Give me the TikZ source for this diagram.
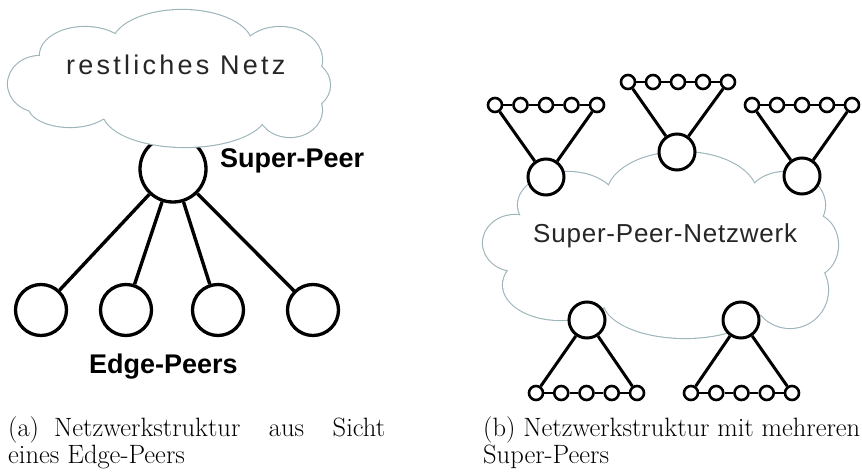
\documentclass[tikz,border=0pt]{standalone}
\usepackage{fontspec}
\newfontfamily\peersans{Liberation Sans}
\newfontfamily\cloudsans[LetterSpace=12]{Liberation Sans}
\newfontfamily\netsans[LetterSpace=3]{Liberation Sans}
\definecolor{cloudedge}{HTML}{9DB4BB}

% a cloud: every lobe is stroked first, then all lobes are filled white,
% so only the outer rim of the union stays visible
\newcommand\drawcloud[1]{%
  \foreach \cx/\cy/\rx/\ry in {#1}
    \draw[cloudline] (\cx,\cy) ellipse [x radius=\rx, y radius=\ry];
  \foreach \cx/\cy/\rx/\ry in {#1}
    \fill[white] (\cx,\cy) ellipse [x radius=\rx, y radius=\ry];
}

% a super-peer with its chain of five edge-peers
\newcommand\peergroup[6]{%
  \foreach \k in {0,...,4}
    \node[leafpeer] (#1-\k) at ({#4+\k*#5},#6) {};
  \foreach \k in {0,...,3}{%
    \pgfmathtruncatemacro\kn{\k+1}
    \draw[leaflink] (#1-\k) -- (#1-\kn);}
  \node[netpeer] (#1) at (#2,#3) {};
  \draw[netlink] (#1) -- (#1-0);
  \draw[netlink] (#1) -- (#1-4);
}

\begin{document}
\begin{tikzpicture}[x=1pt,y=-1pt,
  cloudline/.style={draw=cloudedge, line width=2.2pt},
  bigpeer/.style={circle, draw, fill=white, line width=3.3pt, minimum size=66pt, inner sep=0pt},
  edgepeer/.style={circle, draw, fill=white, line width=3.3pt, minimum size=51pt, inner sep=0pt},
  netpeer/.style={circle, draw, fill=white, line width=3pt, minimum size=36pt, inner sep=0pt},
  leafpeer/.style={circle, draw, fill=white, line width=2.6pt, minimum size=14pt, inner sep=0pt},
  link/.style={line width=3.4pt},
  netlink/.style={line width=3pt},
  leaflink/.style={line width=2.6pt},
  peerlabel/.style={inner sep=0pt, font={\peersans\bfseries\fontsize{27}{30}\selectfont}},
  cloudtext/.style={inner sep=0pt, text=black!85, font={\cloudsans\fontsize{27}{30}\selectfont}},
  nettext/.style={inner sep=0pt, text=black!85, font={\netsans\fontsize{26}{30}\selectfont}},
  captext/.style={inner sep=0pt, font={\fontsize{26.5}{27}\selectfont}}]
\useasboundingbox (0,0) rectangle (862,473);

% ---------- (a) view of one edge-peer ----------
\node[bigpeer] (sp) at (173,169) {};
\foreach \i/\x in {1/41,2/126,3/218,4/313}
  \node[edgepeer] (e\i) at (\x,310) {};
\foreach \i in {1,...,4}
  \draw[link] (sp) -- (e\i);

\drawcloud{40/84/32/28, 85/55/45/28, 182/45/70/35, 280/60/42/33,
           302/85/28/25, 290/110/32/27, 185/112/82/35, 70/105/42/22,
           170/80/130/45}
\node[cloudtext, anchor=base west] (restnet) at (66,75) {restliches Netz};

\node[peerlabel, anchor=base west] (splabel) at (220,168) {Super-Peer};
\node[peerlabel, anchor=base west] (eplabel) at (89,373) {Edge-Peers};

% ---------- (b) several super-peers ----------
\drawcloud{515/243/32/28, 568/205/50/33, 682/195/75/43, 785/205/40/33,
           810/245/28/32, 790/290/38/38, 685/300/82/38, 560/285/57/35,
           665/250/150/60}
\node[nettext, anchor=base west] (spnet) at (533,243) {Super-Peer-Netzwerk};

\peergroup{tl}{546}{177}{495}{25.5}{105}
\peergroup{tm}{677}{152}{628}{25}{82}
\peergroup{tr}{802}{176}{752}{25}{105}
\peergroup{bl}{587}{320}{536}{25.25}{393}
\peergroup{br}{741}{320}{691}{25.25}{393}

% ---------- captions ----------
\node[captext, anchor=base west] (capa) at (8,436)
  {\parbox[t]{377pt}{(a)\hskip 15pt Netzwerkstruktur\hfill aus\hfill Sicht\\
   eines Edge-Peers}};
\node[captext, anchor=base west] (capb) at (483,436)
  {\parbox[t]{377pt}{(b) Netzwerkstruktur mit mehreren Super-Peers}};
\end{tikzpicture}
\end{document}
